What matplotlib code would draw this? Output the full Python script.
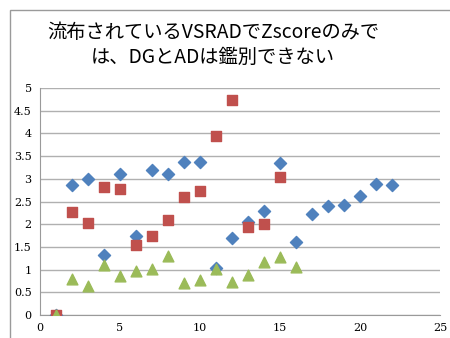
import matplotlib
matplotlib.use("Agg")
import matplotlib.pyplot as plt
from matplotlib.patches import Rectangle

# data
blue_x = list(range(1, 23))
blue_y = [0, 2.86, 3.0, 1.32, 3.11, 1.75, 3.19, 3.11, 3.37, 3.36, 1.04,
          1.69, 2.05, 2.30, 3.34, 1.61, 2.22, 2.39, 2.42, 2.63, 2.89, 2.87]

red_x = list(range(1, 16))
red_y = [0, 2.26, 2.02, 2.81, 2.78, 1.54, 1.75, 2.09, 2.59, 2.73, 3.95,
         4.74, 1.93, 2.0, 3.05]

green_x = list(range(1, 17))
green_y = [0, 0.79, 0.64, 1.10, 0.87, 0.97, 1.01, 1.31, 0.70, 0.77, 1.02,
           0.73, 0.88, 1.17, 1.28, 1.06]

title = "流布されているVSRADでZscoreのみで\nは、DGとADは鑑別できない"

fig = plt.figure(figsize=(4.5, 3.38), dpi=100)

# chart area border (runs off the right and bottom of the picture)
fig.patches.append(Rectangle((10 / 450, -0.1), 1.2, 1 - 10 / 338 + 0.1,
                             transform=fig.transFigure, fill=False,
                             edgecolor="#9a9a9a", linewidth=1.0))

ax = fig.add_axes([40 / 450, 23 / 338, 400 / 450, 227 / 338])

ax.scatter(blue_x, blue_y, marker="D", s=38, color="#4F81BD", zorder=3)
ax.scatter(red_x, red_y, marker="s", s=55, color="#C0504D", zorder=4)
ax.scatter(green_x, green_y, marker="^", s=60, color="#9BBB59", zorder=5)

ax.set_xlim(0, 25)
ax.set_ylim(0, 5)
ax.set_xticks([0, 5, 10, 15, 20, 25])
ax.set_yticks([0, 0.5, 1, 1.5, 2, 2.5, 3, 3.5, 4, 4.5, 5])
ax.set_yticklabels(["0", "0.5", "1", "1.5", "2", "2.5", "3", "3.5", "4", "4.5", "5"])
ax.yaxis.grid(True, color="#b0b0b0", linewidth=1.0)
ax.set_axisbelow(True)
ax.tick_params(length=0, labelsize=8, pad=6)
for lab in ax.get_xticklabels() + ax.get_yticklabels():
    lab.set_family("DejaVu Serif")

for side in ["top", "right"]:
    ax.spines[side].set_visible(False)
ax.spines["left"].set_color("#9a9a9a")
ax.spines["bottom"].set_color("#9a9a9a")

fig.text(213 / 450, 1 - 45 / 338, title, ha="center", va="center",
         multialignment="center", fontsize=13.9,
         family=["Noto Sans CJK JP", "DejaVu Sans"], linespacing=1.25)

fig.savefig("out.png", dpi=100)
